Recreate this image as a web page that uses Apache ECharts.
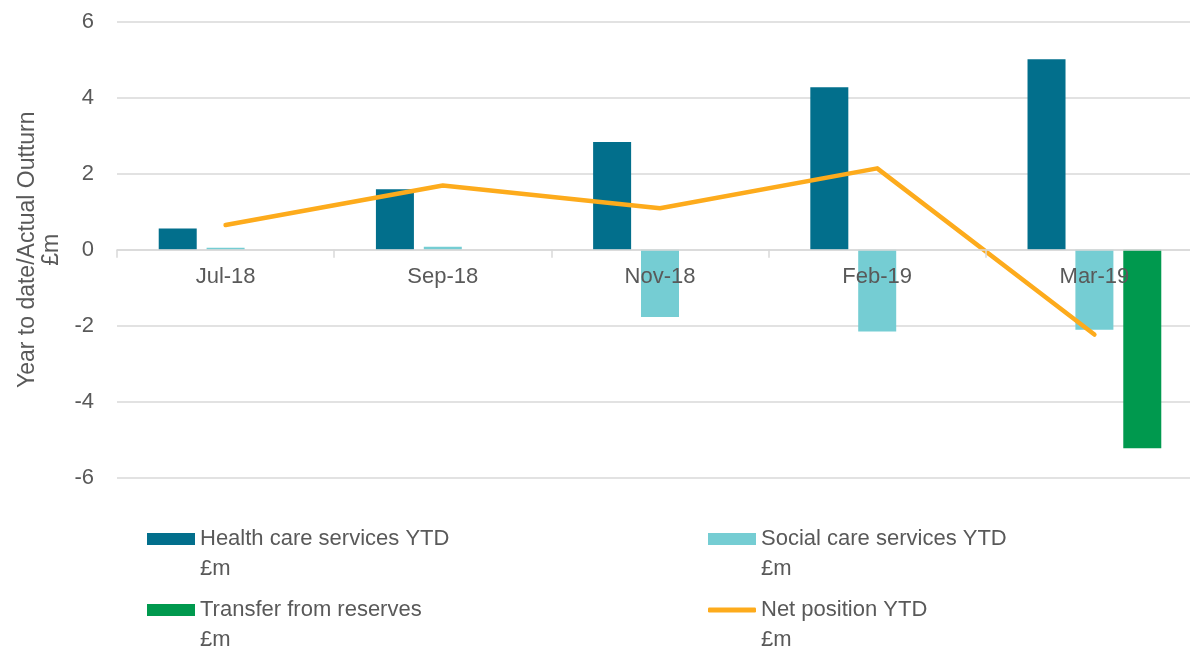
<!DOCTYPE html>
<html>
<head>
<meta charset="utf-8">
<script src="https://cdn.jsdelivr.net/npm/echarts@6/dist/echarts.min.js"></script>
<style>
  html, body { margin: 0; padding: 0; background: #fff; }
  #main { width: 1190px; height: 650px; }
</style>
</head>
<body>
<div id="main"></div>
<script>
// data
const categories = ['Jul-18', 'Sep-18', 'Nov-18', 'Feb-19', 'Mar-19'];
const healthYTD = [0.56, 1.59, 2.83, 4.27, 5.01];
const socialYTD = [0.05, 0.08, -1.77, -2.15, -2.1];
const transferReserves = [null, null, null, null, -5.22];
const netPositionYTD = [0.65, 1.69, 1.09, 2.14, -2.23];
const yTicks = { min: -6, max: 6, interval: 2 };

document.addEventListener('DOMContentLoaded', function() {
    var myChart = echarts.init(document.getElementById('main'));
    const font = '"Liberation Sans", Arial, sans-serif';
    const grey = '#595959';

    // one legend per entry so they sit in two columns like the original;
    // the leading blank line keeps the icon level with the first text line
    const legendItem = (name, left, top, extra) => Object.assign({
        data: [{ name: name, icon: 'rect' }],
        left: left,
        top: top,
        itemWidth: 48,
        itemHeight: 12,
        itemGap: 0,
        selectedMode: false,
        formatter: n => '\n' + n + '\n£m',
        textStyle: { color: grey, fontSize: 22, fontFamily: font, lineHeight: 30 }
    }, extra || {});

    var option = {
        animation: false,
        textStyle: { fontFamily: font },
        // plot runs a little past the right edge, as in the original
        grid: { left: 117, width: 1086, top: 21.5, bottom: 172, containLabel: false, outerBoundsMode: 'none' },
        legend: [
            legendItem('Health care services YTD', 142, 489),
            legendItem('Social care services YTD', 703, 489),
            legendItem('Transfer from reserves', 142, 560),
            legendItem('Net position YTD', 703, 560, {
                data: [{ name: 'Net position YTD', icon: 'roundRect', itemStyle: { color: '#fdab1c' } }],
                itemHeight: 5
            })
        ],
        xAxis: {
            type: 'category',
            data: categories,
            z: 10,
            axisLine: { onZero: true, lineStyle: { color: '#d9d9d9', width: 1.5 } },
            axisTick: { show: true, length: 8, lineStyle: { color: '#d9d9d9', width: 1.5 } },
            axisLabel: { color: grey, fontSize: 22, fontFamily: font, margin: -212 },
            splitLine: { show: false }
        },
        yAxis: {
            type: 'value',
            min: yTicks.min,
            max: yTicks.max,
            interval: yTicks.interval,
            name: 'Year to date/Actual Outturn\n£m',
            nameLocation: 'middle',
            nameRotate: 90,
            nameGap: 53,
            nameTextStyle: { color: grey, fontSize: 23, fontFamily: font, lineHeight: 24 },
            axisLine: { show: false },
            axisTick: { show: false },
            axisLabel: { color: grey, fontSize: 22, fontFamily: font, margin: 23 },
            splitLine: { lineStyle: { color: '#d9d9d9', width: 1.5 } }
        },
        series: [
            {
                name: 'Health care services YTD',
                type: 'bar',
                barWidth: 38,
                barGap: '26%',
                data: healthYTD,
                itemStyle: { color: '#026f8c' }
            },
            {
                name: 'Social care services YTD',
                type: 'bar',
                barWidth: 38,
                barGap: '26%',
                data: socialYTD,
                itemStyle: { color: '#75cdd3' }
            },
            {
                name: 'Transfer from reserves',
                type: 'bar',
                barWidth: 38,
                barGap: '26%',
                data: transferReserves,
                itemStyle: { color: '#00994e' }
            },
            {
                name: 'Net position YTD',
                type: 'line',
                data: netPositionYTD,
                showSymbol: false,
                symbol: 'none',
                z: 5,
                lineStyle: { color: '#fdab1c', width: 4.5, cap: 'round', join: 'round' },
                itemStyle: { color: '#fdab1c' }
            }
        ]
    };

    option && myChart.setOption(option);
});
</script>
</body>
</html>
